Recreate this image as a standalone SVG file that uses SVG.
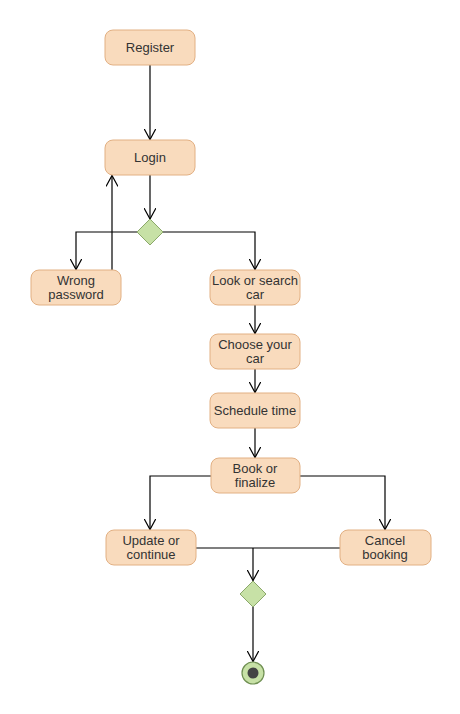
<svg xmlns="http://www.w3.org/2000/svg" width="460" height="714" viewBox="0 0 460 714">
<style>
.n rect{fill:#f9dbbd;stroke:#e2b083;stroke-width:1}
.n text{font-family:"Liberation Sans",Arial,sans-serif;font-size:13px;fill:#333;text-anchor:middle}
.d{fill:#c7e1a6;stroke:#8ba86a;stroke-width:1}
.c path{fill:none;stroke:#000;stroke-width:1.2;marker-end:url(#a)}
.c path.p{marker-end:none}
</style>
<defs>
<marker id="a" viewBox="0 0 12 12" refX="11" refY="6" markerWidth="12" markerHeight="12" markerUnits="userSpaceOnUse" orient="auto">
<path d="M0,0 L11,6 L0,12" fill="none" stroke="#000" stroke-width="1.2"/>
</marker>
</defs>
<rect width="460" height="714" fill="#fff"/>
<g class="c" id="connectors">
<path d="M150,65 V139.5"/>
<path d="M150,175 V219"/>
<path d="M137,232 H76 V269.5"/>
<path d="M163,232 H255 V269.5"/>
<path d="M112,270 V175.5"/>
<path d="M255,305 V333.5"/>
<path d="M255,369 V392.5"/>
<path d="M255,428 V457.5"/>
<path d="M211,476 H150 V529.5"/>
<path d="M300,476 H385 V529.5"/>
<path class="p" d="M196,548 H340"/>
<path d="M253,548 V580.5"/>
<path d="M253,606 V661.5"/>
</g>
<g class="n" id="register"><rect x="105" y="30" width="90" height="35" rx="8"/><text x="150" y="52">Register</text></g>
<g class="n" id="login"><rect x="105" y="140" width="90" height="35" rx="8"/><text x="150" y="162">Login</text></g>
<g id="decision1"><polygon class="d" points="150,219 163,232 150,245 137,232"/></g>
<g class="n" id="wrong"><rect x="31" y="270" width="90" height="35" rx="8"/><text x="76" y="285">Wrong</text><text x="76" y="299">password</text></g>
<g class="n" id="look"><rect x="210" y="270" width="90" height="35" rx="8"/><text x="255" y="285">Look or search</text><text x="255" y="299">car</text></g>
<g class="n" id="choose"><rect x="210" y="334" width="90" height="35" rx="8"/><text x="255" y="349">Choose your</text><text x="255" y="363">car</text></g>
<g class="n" id="schedule"><rect x="210" y="393" width="90" height="35" rx="8"/><text x="255" y="415">Schedule time</text></g>
<g class="n" id="book"><rect x="211" y="458" width="89" height="35" rx="8"/><text x="255" y="473">Book or</text><text x="255" y="487">finalize</text></g>
<g class="n" id="update"><rect x="106" y="530" width="90" height="35" rx="8"/><text x="151" y="545">Update or</text><text x="151" y="559">continue</text></g>
<g class="n" id="cancel"><rect x="340" y="530" width="91" height="35" rx="8"/><text x="385" y="545">Cancel</text><text x="385" y="559">booking</text></g>
<g id="decision2"><polygon class="d" points="253,581 266,594 253,607 240,594"/></g>
<g id="end"><circle cx="253" cy="673" r="11" fill="#c7e1a6" stroke="#6f8f52" stroke-width="1.2"/><circle cx="253" cy="673" r="5.5" fill="#444"/></g>
</svg>
